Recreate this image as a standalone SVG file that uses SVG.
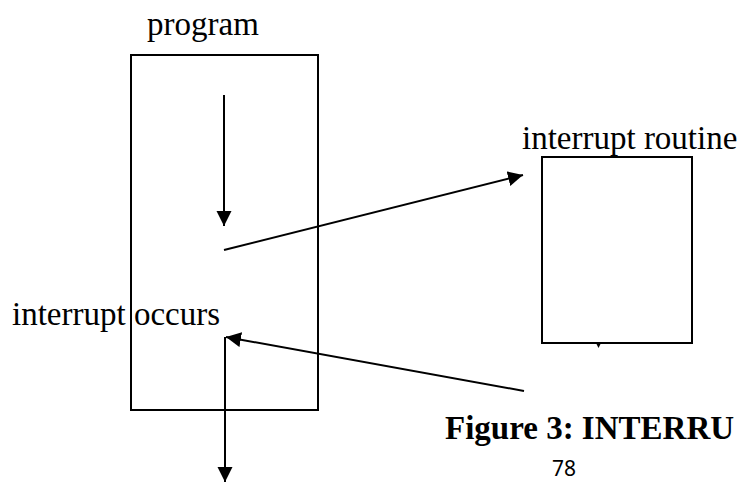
<svg xmlns="http://www.w3.org/2000/svg" width="741" height="482" viewBox="0 0 741 482">
<style>
.lbl{font-family:"Liberation Serif","Times New Roman",serif;font-size:33px;fill:#000}
.cap{font-family:"Liberation Serif","Times New Roman",serif;font-size:33px;font-weight:bold;fill:#000}
.pg{font-family:"Noto Sans","Open Sans",sans-serif;font-size:21px;fill:#000}
.box{fill:none;stroke:#000;stroke-width:2}
.ln{fill:none;stroke:#000;stroke-width:2}
</style>
<defs>
<marker id="ah" markerUnits="userSpaceOnUse" markerWidth="16" markerHeight="16" refX="15" refY="7.5" orient="auto">
<path d="M0,0 L15,7.5 L0,15 z" fill="#000"/>
</marker>
</defs>
<rect width="741" height="482" fill="#fff"/>
<g id="program">
<rect class="box" x="131" y="55" width="187" height="355"/>
<text class="lbl" x="147" y="35">program</text>
</g>
<g id="interrupt-routine">
<rect class="box" x="542" y="157" width="150" height="186"/>
<polygon points="596,343 601,343 598.5,348" fill="#000"/>
<text class="lbl" x="522" y="149">interrupt routine</text>
</g>
<g id="interrupt-occurs">
<text class="lbl" x="12" y="325">interrupt occurs</text>
</g>
<g id="connectors">
<line class="ln" x1="224" y1="95" x2="224" y2="226" marker-end="url(#ah)"/>
<line class="ln" x1="224" y1="250" x2="523" y2="175" marker-end="url(#ah)"/>
<line class="ln" x1="524" y1="391" x2="226" y2="337" marker-end="url(#ah)"/>
<line class="ln" x1="225" y1="337" x2="225" y2="482" marker-end="url(#ah)"/>
</g>
<text class="cap" x="445" y="439">Figure 3: INTERRU</text>
<text class="pg" x="552" y="476">78</text>
</svg>
